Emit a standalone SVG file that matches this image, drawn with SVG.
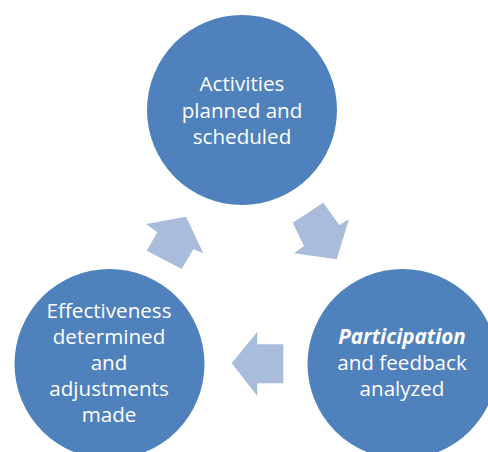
<svg xmlns="http://www.w3.org/2000/svg" width="488" height="452" viewBox="0 0 488 452">
<style>
.node{fill:#4F81BD}
.arrow{fill:#A9BCDB}
.lbl{font-family:"Open Sans","Noto Sans","Liberation Sans",sans-serif;font-size:20.6px;fill:#FFFFFF;text-anchor:middle}
.em{font-weight:bold;font-style:italic}
</style>
<rect width="488" height="452" fill="#FFFFFF"/>
<g id="connectors">
<polygon class="arrow" points="292.7,222.7 323.3,202.7 339.3,225 349,219.3 336.7,259.3 294,253.3 304,246"/>
<polygon class="arrow" points="283.3,344.3 283.3,383.3 257.3,383.3 257.3,396 231.7,363.3 257.3,331.7 257.3,344.3"/>
<polygon class="arrow" points="181.7,269 146.7,250.7 157.3,232.3 146,224 186,216.7 203.3,253.3 193.3,249.3"/>
</g>
<g id="node-top">
<circle class="node" cx="242" cy="110" r="95"/>
<text class="lbl" x="242" y="91">Activities</text>
<text class="lbl" x="242" y="117.5">planned and</text>
<text class="lbl" x="242" y="144">scheduled</text>
</g>
<g id="node-right">
<circle class="node" cx="402.5" cy="364" r="95"/>
<text class="lbl em" x="402" y="344">Participation</text>
<text class="lbl" x="402" y="370">and feedback</text>
<text class="lbl" x="402" y="396">analyzed</text>
</g>
<g id="node-left">
<circle class="node" cx="109.5" cy="364" r="95"/>
<text class="lbl" x="109" y="318">Effectiveness</text>
<text class="lbl" x="109" y="344">determined</text>
<text class="lbl" x="109" y="370">and</text>
<text class="lbl" x="109" y="396">adjustments</text>
<text class="lbl" x="109" y="422">made</text>
</g>
</svg>
